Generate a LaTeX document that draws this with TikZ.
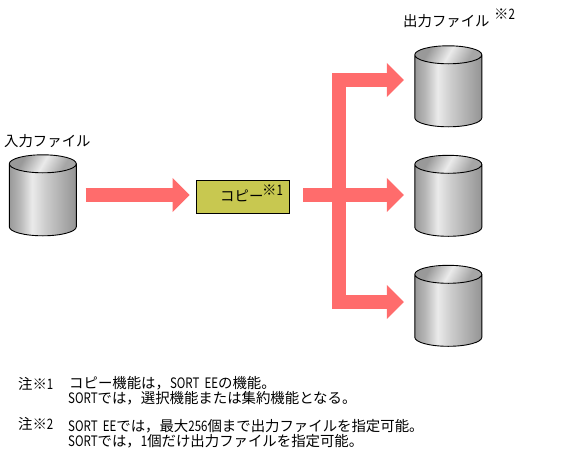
\documentclass[tikz,border=0pt]{standalone}
\usepackage{fontspec}
\setmainfont{Noto Sans CJK JP}
\usetikzlibrary{arrows.meta}
\definecolor{flowred}{HTML}{FF6C6C}
\definecolor{boxolive}{HTML}{C8C850}
\pgfdeclarehorizontalshading{drumside}{100bp}{color(0bp)=(black!40);color(25bp)=(black!40);color(33bp)=(black!28);color(42bp)=(black!8);color(52bp)=(black!20);color(75bp)=(black!42);color(100bp)=(black!42)}
\pgfdeclarehorizontalshading{drumtop}{100bp}{color(0bp)=(black!40);color(30bp)=(black!40);color(50bp)=(black!8);color(70bp)=(black!35);color(100bp)=(black!35)}
\newcommand{\nr}[1]{\scalebox{.8}[1]{#1}}
\tikzset{
  x=1pt,y=-1pt,
  flow/.style={draw=flowred,line width=14pt,line join=miter,-{Triangle[length=17pt,width=33pt,fill=flowred]}},
  flowplain/.style={draw=flowred,line width=14pt},
  hold/.style={inner sep=0pt,minimum width=67pt,minimum height=81pt},
  lab/.style={inner sep=0pt,anchor=west,font=\fontsize{14.4}{16}\selectfont},
  note/.style={inner sep=0pt,anchor=west,font=\fontsize{14.4}{16}\selectfont},
}
\newcommand{\drum}[1]{%
  \shade[shading=drumside]
    (#1.north west)++(0,9) -- ++(0,63) arc[start angle=180,end angle=360,x radius=33.5pt,y radius=9pt]
    -- ++(0,-63) arc[start angle=0,end angle=180,x radius=33.5pt,y radius=9pt] -- cycle;
  \shade[shading=drumtop,shading angle=-30]
    ([yshift=-9pt]#1.north) ellipse[x radius=33.5pt,y radius=8.5pt];
  \draw[line width=.9pt]
    (#1.north west)++(0,9) -- ++(0,63) arc[start angle=180,end angle=360,x radius=33.5pt,y radius=9pt]
    -- ++(0,-63) arc[start angle=0,end angle=180,x radius=33.5pt,y radius=9pt]
    arc[start angle=180,end angle=360,x radius=33.5pt,y radius=9pt];
}
\begin{document}
\begin{tikzpicture}
\useasboundingbox (0,0) rectangle (578,455);
\node[hold] (infile) at (43,195.5) {};
\node[hold] (out1) at (448.5,86.5) {};
\node[hold] (out2) at (448.5,196) {};
\node[hold] (out3) at (448.5,306) {};
\drum{infile}\drum{out1}\drum{out2}\drum{out3}
\node[draw=black,line width=.8pt,fill=boxolive,minimum width=93pt,minimum height=33pt,inner sep=0pt] (copy) at (242.5,196.5) {};
\node[lab] (copylab) at (220,196) {コピー};
\node[lab] (copysup) at (262,190) {※\nr{1}};
\node[lab] (inlab) at (4,141) {入力ファイル};
\node[lab] (outlab) at (403,21) {出力ファイル};
\node[lab] (outsup) at (494,14) {※\nr{2}};
\coordinate (j) at (338.5,195);
\draw[flow] ([xshift=9pt]infile.east |- 0,195) -- ([xshift=-6pt]copy.west |- 0,195);
\draw[flowplain] ([xshift=14pt]copy.east |- 0,195) -- (j);
\draw[flow] (j) -- (j |- 0,80) -- ([xshift=-11pt]out1.west |- 0,80);
\draw[flow] (j) -- ([xshift=-11pt]out2.west |- 0,195);
\draw[flow] (j) -- (j |- 0,302) -- ([xshift=-11pt]out3.west |- 0,302);
\node[note] (n1) at (18,383.5) {注※\nr{1}};
\node[note] (n1a) at (69,383) {コピー機能は，\nr{SORT\ \ EE}の機能。};
\node[note] (n1b) at (68,398.5) {\nr{SORT}では，選択機能または集約機能となる。};
\node[note] (n2) at (18,423.5) {注※\nr{2}};
\node[note] (n2a) at (68,426) {\nr{SORT\ \ EE}では，最大\nr{256}個まで出力ファイルを指定可能。};
\node[note] (n2b) at (68,441.5) {\nr{SORT}では，\nr{1}個だけ出力ファイルを指定可能。};
\end{tikzpicture}
\end{document}
